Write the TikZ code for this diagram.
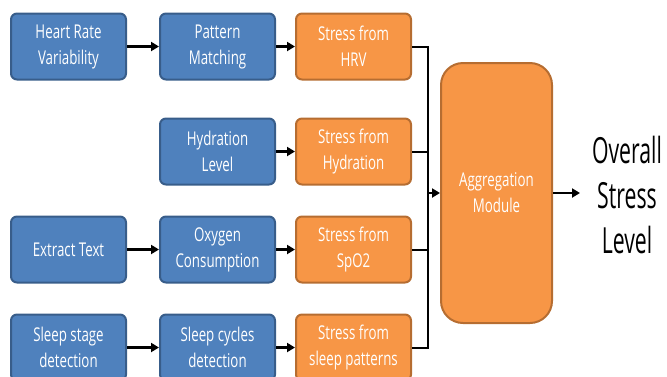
\documentclass[tikz,border=0pt]{standalone}
\usepackage{xcolor}
\usepackage{fontspec}
\usepackage{tikz}
\usetikzlibrary{arrows.meta,positioning,calc}
\newfontfamily\boxfont[FakeStretch=0.7]{Open Sans}
\newfontfamily\bigfont[FakeStretch=0.59]{Open Sans}
\definecolor{inblue}{RGB}{79,129,189}
\definecolor{inblueline}{RGB}{56,93,138}
\definecolor{stressorange}{RGB}{247,150,70}
\definecolor{stressline}{RGB}{182,109,49}

\begin{document}
\begin{tikzpicture}[
    x=1pt, y=1pt,
    node distance=30pt and 19pt,
    inbox/.style={rectangle, rounded corners=6pt, draw=inblueline, fill=inblue, line width=2pt, minimum width=115pt, minimum height=66pt, align=center, text=white, font=\boxfont\fontsize{19}{26}\selectfont},
    stressbox/.style={inbox, draw=stressline, fill=stressorange},
    aggbox/.style={stressbox, rounded corners=22pt, minimum width=111pt, minimum height=260pt},
    arrow/.style={-{Triangle[length=8pt,width=9pt]}, line width=2.2pt},
    link/.style={line width=2pt, line join=miter}
]
    \useasboundingbox (0,0) rectangle (667,-376);

    % Row 1: heart rate
    \node[inbox] (hrv) at (68.5,-46.5) {Heart Rate\\Variability};
    \node[inbox, right=32pt of hrv] (pattern) {Pattern\\Matching};
    \node[stressbox, right=of pattern] (shrv) {Stress from\\HRV};

    % Row 2: hydration
    \node[inbox, below=37pt of pattern] (hydration) {Hydration\\Level};
    \node[stressbox, right=of hydration] (shyd) {Stress from\\Hydration};

    % Row 3: oxygen
    \node[inbox, below=30pt of hydration] (oxygen) {Oxygen\\Consumption};
    \node[inbox, left=32pt of oxygen] (extract) {Extract Text};
    \node[stressbox, right=of oxygen] (sspo) {Stress from\\SpO2};

    % Row 4: sleep
    \node[inbox, below=30pt of oxygen] (cycles) {Sleep cycles\\detection};
    \node[inbox, left=32pt of cycles] (stage) {Sleep stage\\detection};
    \node[stressbox, right=of cycles] (ssleep) {Stress from\\sleep patterns};

    % Aggregation and output
    \node[aggbox] (agg) at (496.5,-193) {Aggregation\\Module};
    \node[font=\bigfont\fontsize{36}{45}\selectfont, align=center] (overall) at (627,-195) {Overall\\Stress\\Level};

    % Arrows along the rows
    \draw[arrow] (hrv) -- (pattern);
    \draw[arrow] (pattern) -- (shrv);
    \draw[arrow] (hydration) -- (shyd);
    \draw[arrow] (extract) -- (oxygen);
    \draw[arrow] (oxygen) -- (sspo);
    \draw[arrow] (stage) -- (cycles);
    \draw[arrow] (cycles) -- (ssleep);

    % Collecting bus
    \coordinate (bustop) at ($(shrv.east)+(16pt,0)$);
    \coordinate (busbot) at ($(ssleep.east)+(16pt,0)$);
    \draw[link] (shrv.east) -- (bustop) -- (busbot) -- (ssleep.east);
    \draw[link] (shyd.east) -- (shyd.east -| bustop);
    \draw[link] (sspo.east) -- (sspo.east -| bustop);
    \draw[arrow] (agg.west -| bustop) -- (agg.west);
    \draw[arrow] (agg.east) -- ++(27pt,0);
\end{tikzpicture}
\end{document}
